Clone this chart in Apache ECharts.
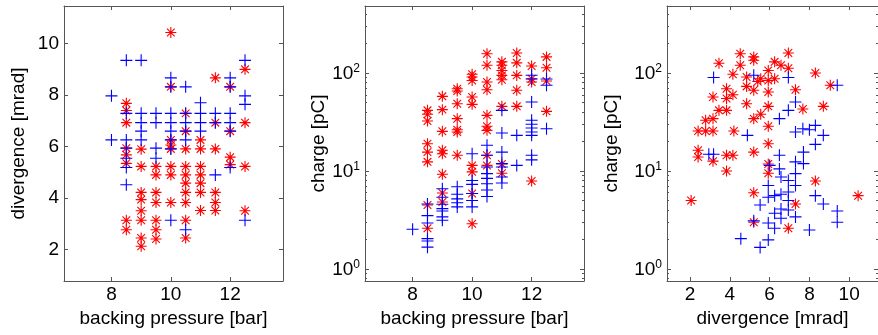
<!DOCTYPE html>
<html><head><meta charset="utf-8">
<script src="https://cdn.jsdelivr.net/npm/echarts@6/dist/echarts.min.js"></script>
<style>html,body{margin:0;padding:0;background:#fff}#c{width:878px;height:335px}</style>
</head><body><div id="c"></div>
<script>
// ---- tick labels / axis text ----
const pressureTicks = [8, 10, 12];
const divergenceTicks = [2, 4, 6, 8, 10];
const chargeTicks = [1, 10, 100];
const chargeMinorTicks = [0.8, 0.9, 2, 3, 4, 5, 6, 7, 8, 9, 20, 30, 40, 50, 60, 70, 80, 90, 200, 300, 400];
const pressureName = 'backing pressure [bar]';
const divergenceName = 'divergence [mrad]';
const chargeName = 'charge [pC]';

// ---- panel 1: backing pressure [bar] vs divergence [mrad] ----
const p1Red = [[8.5,7.68],[8.5,7.4],[8.5,6.93],[8.5,5.94],[8.5,5.68],[8.5,5.35],[8.5,3.14],[8.5,2.77],
[9,5.9],[9,5.23],[9,4.22],[9,3.94],[9,3.51],[9,3.14],[9,2.45],[9,2.13],
[9.5,5.23],[9.5,4.9],[9.5,4.22],[9.5,3.83],[9.5,3.14],[9.5,2.77],[9.5,2.41],
[10,10.43],[10,8.32],[10,6.26],[10,6.06],[10,5.91],[10,5.23],[10,4.9],[10,3.83],
[10.5,7.29],[10.5,6.6],[10.5,5.91],[10.5,5.23],[10.5,4.9],[10.5,4.58],[10.5,4.22],[10.5,3.83],[10.5,3.14],[10.5,2.45],
[11,6.26],[11,5.91],[11,5.23],[11,4.9],[11,4.58],[11,4.22],[11,3.52],
[11.5,8.67],[11.5,6.93],[11.5,5.91],[11.5,4.22],[11.5,3.83],[11.5,3.52],
[12,8.32],[12,6.6],[12,5.59],[12,5.3],
[12.5,9.0],[12.5,6.93],[12.5,5.23],[12.5,3.51]];
const p1Blue = [[8,7.97],[8,6.26],
[8.5,9.35],[8.5,7.29],[8.5,6.26],[8.5,5.94],[8.5,5.55],[8.5,5.19],[8.5,4.52],
[9,9.35],[9,7.29],[9,6.93],[9,6.6],[9,6.26],
[9.5,7.29],[9.5,6.93],[9.5,5.94],[9.5,5.55],
[10,8.67],[10,8.32],[10,7.29],[10,6.93],[10,6.6],[10,6.26],[10,5.91],[10,3.14],
[10.5,8.32],[10.5,7.29],[10.5,6.93],[10.5,6.6],[10.5,6.26],[10.5,2.77],
[11,7.7],[11,7.29],[11,6.93],[11,6.6],
[11.5,7.29],[11.5,6.93],[11.5,4.9],
[12,8.67],[12,8.32],[12,7.29],[12,6.93],[12,6.6],[12,5.19],
[12.5,9.35],[12.5,7.97],[12.5,7.64],[12.5,3.14]];

// ---- panel 2: backing pressure [bar] vs charge [pC] ----
const p2Red = [[8.5,41.6],[8.5,38],[8.5,32.4],[8.5,19],[8.5,15.6],[8.5,12.4],[8.5,4.5],[8.5,2.6],
[9,57.8],[9,42.3],[9,25.4],[9,16.3],[9,15],[9,9.25],[9,5.97],[9,4.83],
[9.5,69],[9.5,65.5],[9.5,48.6],[9.5,34.2],[9.5,26.4],[9.5,25],[9.5,14.5],
[10,97],[10,91],[10,84],[10,57],[10,47.9],[10,11.4],[10,9.8],[10,5.9],[10,2.9],
[10.5,157],[10.5,120],[10.5,81],[10.5,67.6],[10.5,37],[10.5,28.6],[10.5,26],[10.5,14.5],[10.5,11.4],
[11,130],[11,120],[11,106],[11,94.6],[11,85.5],[11,45.7],[11,11.8],[11,9.5],
[11.5,160],[11.5,127],[11.5,94.6],[11.5,66.6],[11.5,45.7],
[12,118],[12,87.5],[12,81],[12,7.9],
[12.5,146],[12.5,113],[12.5,83],[12.5,40.6]];
const p2Blue = [[8,2.54],
[8.5,4.6],[8.5,3.5],[8.5,2.95],[8.5,2.04],[8.5,1.93],[8.5,1.67],
[9,6.6],[9,5.4],[9,4.57],[9,4.13],[9,3.9],[9,3.4],[9,3.14],
[9.5,6.9],[9.5,5.8],[9.5,5.2],[9.5,4.75],[9.5,4.3],
[10,15],[10,8.0],[10,7.3],[10,5.9],[10,5.0],[10,4.3],
[10.5,18.3],[10.5,14.5],[10.5,11],[10.5,9.4],[10.5,8.4],[10.5,7.4],[10.5,6.4],[10.5,5.5],
[11,41.6],[11,24.4],[11,15.6],[11,11.9],[11,11],[11,8.7],[11,7.55],
[11.5,23.1],[11.5,11.4],
[12,95],[12,87],[12,50.6],[12,32.9],[12,30],[12,27.5],[12,25],[12,23.1],[12,14.5],[12,13],
[12.5,87],[12.5,75],[12.5,27]];

// ---- panel 3: divergence [mrad] vs charge [pC] ----
const p3Red = [[2.05,5.0],[2.4,16.3],[2.4,13.9],[2.4,25.6],[2.78,25.6],[2.78,32.9],[3.15,25.6],[3.15,34.2],
[3.15,57],[3.15,12.6],[3.45,126],[3.45,41.6],[3.83,41.6],[3.83,69],[3.83,55],[3.83,14.5],[3.83,10],
[4.15,14.5],[4.2,25.6],[4.15,60],[4.15,97],[4.52,157],[4.52,120],[4.84,91],[4.84,73],[4.84,48.6],
[5.2,146],[5.2,135],[5.2,66.6],[5.2,34.2],[5.2,15.6],[5.2,6.0],[5.2,3.0],[5.55,87.5],[5.55,38],[5.4,82],
[5.93,106],[5.93,84],[5.93,64],[5.93,45.7],[5.93,28.6],[5.93,19],[5.93,11.8],[5.93,9.5],
[6.25,130],[6.25,87.5],[6.57,120],[6.94,160],[6.94,112],[6.94,2.6],[7.3,67.6],[7.3,4.6],
[7.67,43],[8.3,100],[8.3,7.9],[8.7,45.7],[9.05,75],[10.45,5.6]];
const p3Blue = [[3.18,90],[2.94,14.8],[3.18,14.8],[4.88,23.1],[5.2,95],[4.55,2.04],[5.2,3.1],[5.52,4.5],
[5.52,1.66],[5.93,1.98],[5.93,2.95],[5.93,7.1],[5.93,5.4],[6.25,3.7],[6.25,2.6],[6.25,5.6],
[6.49,34.2],[6.49,14.5],[6.49,10.5],[6.57,8.7],[6.57,5.8],[6.57,4.1],[6.57,3.3],
[6.94,90],[6.94,41.6],[6.94,8.0],[6.94,6.1],[6.94,5.0],[6.94,4.0],
[7.3,50.6],[7.3,25],[7.3,12.4],[7.3,9.4],[7.3,7.1],[7.3,3.4],
[7.67,27],[7.7,11.9],[7.7,15.6],[8,26.4],[8,2.5],[8.3,29.2],[8.3,18.7],[8.3,5.6],
[8.7,23.1],[8.7,4.6],[9.4,75],[9.4,3.9],[9.4,3.0],[6.0,11.4]];

// ---- styling ----
const FONT = 'Liberation Sans, Arial, sans-serif';
const FS = 19;
const AX = '#555';
const plusPath = 'path://M0,6L12,6M6,0L6,12';
const starPath = 'path://M0,6L12,6M6,0L6,12M1.8,1.8L10.2,10.2M1.8,10.2L10.2,1.8';

const grids = [
  {left: 64, top: 6, width: 219, height: 275},
  {left: 365, top: 6, width: 219, height: 275},
  {left: 667, top: 6, width: 219, height: 275}
];
const xRanges = [[6.4, 13.78], [6.4, 13.76], [0.836, 11.45]];
const yRangeDiv = [0.78, 11.46];
const yRangeCharge = [0.754, 483];

function logFmt(v) {
  const e = Math.round(Math.log10(v));
  return '{b|10}{s|' + e + '}';
}
const richLog = {
  b: {fontSize: FS, fontFamily: FONT, color: '#000', lineHeight: 20, verticalAlign: 'bottom'},
  s: {fontSize: 12, fontFamily: FONT, color: '#000', lineHeight: 9, verticalAlign: 'top'}
};

function baseAxis(gi, pos, type, range, ticks, showLabel, extra) {
  return Object.assign({
    gridIndex: gi, position: pos, type: type, min: range[0], max: range[1],
    axisLine: {show: true, onZero: false, lineStyle: {color: AX, width: 1}},
    axisTick: {show: true, inside: true, length: 4, customValues: ticks, lineStyle: {color: AX, width: 1}},
    axisLabel: {show: showLabel, customValues: ticks, color: '#000', fontSize: FS, fontFamily: FONT, margin: pos === 'bottom' ? 4 : 5},
    splitLine: {show: false}, minorTick: {show: false}
  }, extra || {});
}
function minorAxis(gi, pos) {
  return {
    gridIndex: gi, position: pos, type: 'log', min: yRangeCharge[0], max: yRangeCharge[1],
    axisLine: {show: false},
    axisTick: {show: true, inside: true, length: 2, customValues: chargeMinorTicks, lineStyle: {color: AX, width: 1}},
    axisLabel: {show: false}, splitLine: {show: false}
  };
}
const nameStyle = {fontSize: FS, fontFamily: FONT, color: '#000'};

const xAxis = [
  baseAxis(0, 'bottom', 'value', xRanges[0], pressureTicks, true, {name: pressureName, nameLocation: 'middle', nameGap: 24, nameTextStyle: nameStyle}),
  baseAxis(0, 'top', 'value', xRanges[0], pressureTicks, false),
  baseAxis(1, 'bottom', 'value', xRanges[1], pressureTicks, true, {name: pressureName, nameLocation: 'middle', nameGap: 24, nameTextStyle: nameStyle}),
  baseAxis(1, 'top', 'value', xRanges[1], pressureTicks, false),
  baseAxis(2, 'bottom', 'value', xRanges[2], divergenceTicks, true, {name: divergenceName, nameLocation: 'middle', nameGap: 24, nameTextStyle: nameStyle}),
  baseAxis(2, 'top', 'value', xRanges[2], divergenceTicks, false)
];
const logLabel = {show: true, customValues: chargeTicks, formatter: logFmt, rich: richLog, margin: 5};
const yAxis = [
  baseAxis(0, 'left', 'value', yRangeDiv, divergenceTicks, true, {name: divergenceName, nameLocation: 'middle', nameGap: 36, nameTextStyle: nameStyle}),
  baseAxis(0, 'right', 'value', yRangeDiv, divergenceTicks, false),
  baseAxis(1, 'left', 'log', yRangeCharge, chargeTicks, true, {logBase: 10, name: chargeName, nameLocation: 'middle', nameGap: 29, nameTextStyle: nameStyle}),
  baseAxis(1, 'right', 'log', yRangeCharge, chargeTicks, false, {logBase: 10}),
  minorAxis(1, 'left'), minorAxis(1, 'right'),
  baseAxis(2, 'left', 'log', yRangeCharge, chargeTicks, true, {logBase: 10, name: chargeName, nameLocation: 'middle', nameGap: 46, nameTextStyle: nameStyle}),
  baseAxis(2, 'right', 'log', yRangeCharge, chargeTicks, false, {logBase: 10}),
  minorAxis(2, 'left'), minorAxis(2, 'right')
];
yAxis[2].axisLabel = logLabel;
yAxis[6].axisLabel = logLabel;

function scat(data, xi, yi, isRed) {
  return {
    type: 'scatter', xAxisIndex: xi, yAxisIndex: yi, data: data, silent: true,
    symbol: isRed ? starPath : plusPath, symbolSize: isRed ? 11 : 12,
    itemStyle: {color: 'transparent', borderColor: isRed ? '#ff0000' : '#0000ff', borderWidth: 1.1, opacity: 1},
    emphasis: {disabled: true}
  };
}

const chart = echarts.init(document.getElementById('c'), null, {renderer: 'canvas'});
chart.setOption({
  animation: false,
  backgroundColor: '#fff',
  grid: grids,
  xAxis: xAxis,
  yAxis: yAxis,
  series: [
    scat(p1Red, 0, 0, true), scat(p1Blue, 0, 0, false),
    scat(p2Red, 2, 2, true), scat(p2Blue, 2, 2, false),
    scat(p3Red, 4, 6, true), scat(p3Blue, 4, 6, false)
  ]
});
</script></body></html>
